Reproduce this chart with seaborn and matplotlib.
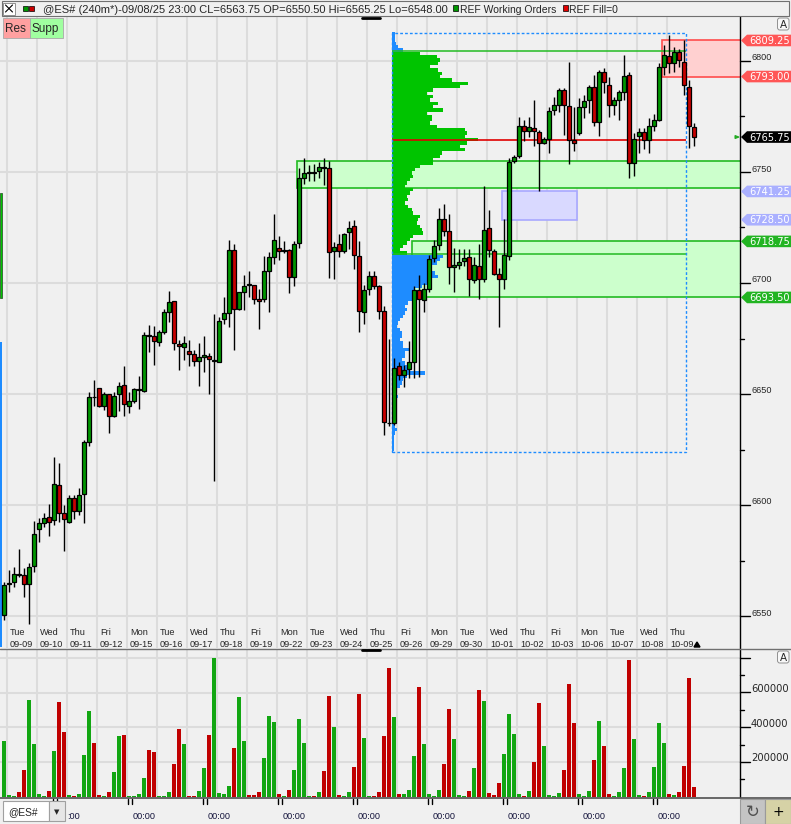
import numpy as np
import pandas as pd
import matplotlib
matplotlib.use("Agg")
import matplotlib.pyplot as plt
import matplotlib.patches as mpatches
from matplotlib.lines import Line2D
import seaborn as sns

# ---- data: @ES# 240 min bars, 09/08 .. 10/09 ----
opens = [6550.5,
         6564.5, 6565.25, 6568.75, 6568.5, 6564.5, 6572.5,
         6589.0, 6592.0, 6594.5, 6593.25, 6609.0, 6596.5,
         6592.5, 6603.25, 6597.5, 6605.0, 6628.5, 6648.75,
         6652.5, 6644.75, 6650.0, 6640.25, 6650.0, 6654.0,
         6644.75, 6647.0, 6652.0, 6651.5, 6676.5, 6676.25,
         6673.25, 6677.75, 6687.0, 6692.0, 6672.5, 6671.0,
         6669.25, 6668.0, 6665.0, 6666.5, 6667.25, 6665.0,
         6664.5, 6683.75, 6686.5, 6715.0, 6688.5, 6696.0,
         6699.5, 6699.0, 6692.75, 6693.0, 6705.5, 6711.5,
         6715.75, 6714.5, 6715.0, 6702.5, 6718.0, 6747.5,
         6749.75, 6749.75, 6750.25, 6752.25, 6751.75, 6714.25,
         6717.5, 6714.5, 6722.75, 6725.75, 6712.25, 6687.0,
         6697.25, 6703.25, 6698.5, 6687.5, 6637.0, 6636.75,
         6662.5, 6658.5, 6661.25, 6664.5, 6697.0, 6692.5,
         6697.25, 6711.25, 6717.0, 6728.75, 6723.5, 6707.0,
         6708.0, 6709.75, 6711.5, 6701.5, 6707.75, 6701.75,
         6725.0, 6714.5, 6704.0, 6702.0, 6712.25, 6754.75,
         6757.0, 6770.75, 6768.25, 6769.75, 6768.0, 6763.0,
         6764.75, 6778.0, 6780.0, 6786.75, 6779.75, 6764.25,
         6767.75, 6779.5, 6782.25, 6788.25, 6772.5, 6795.0,
         6789.25, 6780.0, 6782.5, 6786.25, 6793.75, 6754.0,
         6766.0, 6768.0, 6764.5, 6770.75, 6773.5, 6797.5,
         6802.25, 6799.0, 6804.25, 6799.75, 6788.25, 6770.25]
highs = [6565.25,
         6570.5, 6572.25, 6580.25, 6571.5, 6573.75, 6593.0,
         6594.0, 6596.25, 6600.5, 6621.75, 6619.0, 6600.0,
         6604.5, 6604.5, 6607.5, 6629.25, 6651.0, 6656.5,
         6652.5, 6650.75, 6650.0, 6650.75, 6655.25, 6662.75,
         6651.0, 6652.5, 6658.25, 6677.75, 6681.0, 6680.5,
         6679.0, 6688.25, 6696.5, 6692.0, 6674.5, 6676.25,
         6674.5, 6670.0, 6673.0, 6676.0, 6668.5, 6686.0,
         6684.5, 6693.5, 6719.5, 6717.5, 6695.75, 6703.75,
         6705.5, 6699.0, 6697.5, 6712.25, 6713.75, 6731.0,
         6721.25, 6719.0, 6715.5, 6718.75, 6751.75, 6756.25,
         6753.0, 6753.75, 6754.5, 6756.25, 6754.75, 6718.5,
         6722.0, 6722.5, 6727.75, 6728.5, 6719.0, 6699.0,
         6705.25, 6705.25, 6699.0, 6689.5, 6674.75, 6666.0,
         6664.5, 6663.0, 6674.0, 6698.5, 6703.5, 6700.0,
         6712.75, 6719.5, 6733.75, 6735.5, 6731.0, 6715.75,
         6715.25, 6715.25, 6715.25, 6711.5, 6717.5, 6743.5,
         6733.0, 6715.25, 6706.75, 6728.75, 6756.5, 6757.75,
         6775.0, 6773.5, 6775.0, 6782.25, 6769.0, 6765.75,
         6779.5, 6783.75, 6787.75, 6787.75, 6799.5, 6779.25,
         6783.25, 6784.75, 6789.25, 6793.75, 6795.75, 6796.75,
         6792.75, 6783.75, 6787.0, 6802.5, 6795.0, 6767.5,
         6769.75, 6769.75, 6774.25, 6776.25, 6799.0, 6807.25,
         6811.75, 6806.5, 6805.25, 6809.25, 6791.25, 6772.25]
lows = [6548.0,
        6561.0, 6563.25, 6567.75, 6558.75, 6546.5, 6570.0,
        6583.5, 6590.25, 6586.0, 6591.0, 6592.5, 6579.5,
        6592.0, 6593.5, 6595.5, 6592.0, 6626.5, 6644.75,
        6644.25, 6643.0, 6632.5, 6639.5, 6642.5, 6640.0,
        6641.25, 6646.0, 6643.25, 6650.75, 6669.0, 6663.0,
        6671.5, 6677.0, 6682.5, 6670.0, 6661.0, 6665.5,
        6662.5, 6662.5, 6653.75, 6659.75, 6650.0, 6611.0,
        6664.25, 6681.5, 6680.0, 6670.0, 6688.0, 6688.0,
        6693.5, 6690.5, 6679.5, 6691.5, 6687.0, 6708.5,
        6710.5, 6713.5, 6695.5, 6698.5, 6715.75, 6744.5,
        6745.75, 6746.0, 6747.25, 6744.0, 6702.25, 6701.75,
        6711.5, 6713.5, 6715.5, 6706.25, 6678.0, 6681.5,
        6694.5, 6697.25, 6683.75, 6631.5, 6635.5, 6636.0,
        6656.25, 6653.25, 6657.0, 6657.0, 6657.5, 6687.0,
        6696.0, 6709.5, 6715.0, 6721.0, 6699.5, 6696.0,
        6706.5, 6707.75, 6694.25, 6700.0, 6693.0, 6700.5,
        6711.5, 6703.5, 6680.0, 6697.5, 6710.5, 6754.25,
        6756.25, 6763.75, 6765.75, 6761.5, 6741.25, 6762.5,
        6758.75, 6775.75, 6777.0, 6766.5, 6753.75, 6759.25,
        6766.75, 6774.25, 6776.5, 6770.75, 6766.25, 6785.75,
        6775.0, 6775.75, 6773.5, 6782.5, 6747.25, 6748.25,
        6758.5, 6760.5, 6758.75, 6768.25, 6772.75, 6793.75,
        6794.5, 6795.25, 6797.25, 6784.75, 6760.75, 6761.75]
closes = [6563.75,
          6564.75, 6568.75, 6568.5, 6564.5, 6572.0, 6587.0,
          6591.75, 6594.0, 6592.5, 6609.5, 6596.5, 6593.5,
          6603.25, 6597.5, 6604.5, 6628.25, 6648.5, 6648.5,
          6644.5, 6650.0, 6640.25, 6649.25, 6653.75, 6645.5,
          6647.0, 6652.25, 6652.25, 6676.5, 6676.25, 6674.0,
          6677.75, 6686.75, 6691.5, 6673.0, 6671.5, 6673.0,
          6668.0, 6665.0, 6666.5, 6667.5, 6665.75, 6665.25,
          6683.0, 6686.5, 6715.0, 6688.5, 6695.75, 6698.75,
          6699.25, 6692.75, 6692.0, 6705.5, 6711.75, 6719.5,
          6714.5, 6714.75, 6702.5, 6717.5, 6747.25, 6749.5,
          6750.0, 6749.5, 6752.25, 6752.0, 6714.0, 6716.0,
          6714.5, 6722.0, 6725.0, 6712.5, 6687.5, 6697.0,
          6703.25, 6698.75, 6687.5, 6637.25, 6636.75, 6661.5,
          6658.5, 6661.0, 6664.25, 6697.0, 6692.75, 6697.25,
          6710.75, 6716.75, 6728.75, 6723.5, 6707.0, 6708.0,
          6709.5, 6711.25, 6701.75, 6708.0, 6702.0, 6723.75,
          6715.0, 6704.0, 6702.0, 6712.5, 6754.5, 6756.75,
          6770.75, 6768.25, 6770.25, 6768.25, 6763.0, 6765.0,
          6777.5, 6780.25, 6786.75, 6780.0, 6764.5, 6763.0,
          6779.25, 6782.0, 6788.25, 6772.5, 6795.0, 6790.5,
          6780.0, 6782.5, 6786.25, 6793.25, 6754.0, 6765.0,
          6768.0, 6764.5, 6770.75, 6773.25, 6797.25, 6802.75,
          6799.0, 6804.25, 6800.25, 6789.25, 6770.5, 6765.75]
volumes_k = [320,
             9, 4, 27, 153, 560, 307,
             16, 4, 32, 267, 548, 375,
             9, 4, 16, 244, 496, 313,
             9, 4, 27, 141, 353, 359,
             3, 3, 16, 112, 272, 256,
             4, 3, 27, 187, 393, 302,
             4, 3, 32, 164, 359, 800,
             21, 16, 61, 284, 576, 324,
             9, 9, 27, 222, 468, 433,
             16, 4, 38, 153, 450, 313,
             4, 4, 27, 147, 582, 405,
             9, 3, 27, 170, 594, 341,
             4, 4, 27, 353, 743, 462,
             16, 16, 38, 233, 633, 302,
             16, 4, 38, 192, 508, 336,
             9, 4, 32, 164, 617, 553,
             21, 9, 78, 250, 479, 364,
             16, 4, 32, 199, 542, 295,
             9, 4, 21, 153, 651, 427,
             16, 4, 32, 210, 439, 295,
             16, 4, 27, 164, 788, 336,
             9, 4, 27, 170, 427, 313,
             16, 9, 27, 181, 685, 55]

day_names = ["Tue", "Wed", "Thu", "Fri", "Mon", "Tue", "Wed", "Thu", "Fri", "Mon", "Tue", "Wed",
             "Thu", "Fri", "Mon", "Tue", "Wed", "Thu", "Fri", "Mon", "Tue", "Wed", "Thu"]
day_dates = ["09-09", "09-10", "09-11", "09-12", "09-15", "09-16", "09-17", "09-18", "09-19",
             "09-22", "09-23", "09-24", "09-25", "09-26", "09-29", "09-30", "10-01", "10-02",
             "10-03", "10-06", "10-07", "10-08", "10-09"]

# volume profile of the last 2 weeks, one row every 1.5 pts from the top
profile_top, profile_step = 6812.5, 1.5
profile_vol = [3, 3, 3, 4, 6, 11, 28, 45, 48, 46, 38, 46, 50, 48, 60, 76, 68, 41, 35, 41,
               38, 46, 41, 51, 35, 40, 40, 38, 45, 73, 75, 73, 86, 75, 68, 73, 50, 48, 41, 41,
               28, 23, 20, 21, 18, 15, 13, 21, 18, 15, 16, 13, 16, 20, 21, 28, 26, 25, 28, 30,
               31, 21, 18, 15, 11, 8, 15, 51, 48, 45, 35, 40, 43, 46, 38, 35, 30, 23, 21, 23,
               20, 16, 13, 15, 13, 11, 8, 6, 5, 8, 10, 10, 8, 11, 11, 18, 13, 13, 10, 13,
               15, 18, 33, 15, 11, 10, 8, 5, 3, 6, 4, 2, 2, 2, 2, 2, 2, 2, 3, 5,
               3, 2, 2, 2, 2, 2]
poc, vah, val = 6764.5, 6804.5, 6713.0
profile_low, profile_high = 6623.75, 6812.5

support_zones = [(6743.0, 6754.75), (6693.5, 6718.75)]
resistance_zone = (6793.0, 6809.25)
order_box = (6728.5, 6741.25)
last_price = 6765.75
header = "@ES# (240m*)-09/08/25 23:00 CL=6563.75 OP=6550.50 Hi=6565.25 Lo=6548.00"

# ---- layout (pixels of the 791x824 window) ----
W, H = 791, 824
BG = "#f0f0f0"
GRID = "#dcdcdc"

sns.set_style("white", {"axes.facecolor": BG, "figure.facecolor": BG})
plt.rcParams["font.family"] = ["Liberation Sans", "DejaVu Sans"]


def fx(px):
    return px / W


def fy(py):
    return 1 - py / H


def ypx(price):
    return 616 - (price - 6550) * 2.22


def frect(x0, y0, x1, y1, **kw):
    fig.add_artist(mpatches.Rectangle((fx(x0), fy(y1)), (x1 - x0) / W, (y1 - y0) / H,
                                      transform=fig.transFigure, **kw))


def fline(xs, ys, **kw):
    fig.add_artist(Line2D([fx(v) for v in xs], [fy(v) for v in ys], transform=fig.transFigure, **kw))


def ftext(x, y, s, **kw):
    fig.text(fx(x), fy(y), s, **kw)


fig = plt.figure(figsize=(W / 100, H / 100), dpi=100)
fig.patch.set_facecolor(BG)

ax = fig.add_axes([0, fy(648), 740 / W, (648 - 16) / H])
axv = fig.add_axes([0, fy(797), 740 / W, (797 - 650) / H])

n = len(opens)
x = np.arange(n)
o, h, l, c = (np.array(a, dtype=float) for a in (opens, highs, lows, closes))
up = c >= o

# --- price panel ---
ax.set_facecolor(BG)
for k in range(len(day_names)):
    ax.axvline(0.5 + 6 * k, color=GRID, lw=1.5, zorder=0)
for p in range(6550, 6801, 50):
    ax.axhline(p, color=GRID, lw=1.5, zorder=0)

# zones
for lo, hi in support_zones:
    x0 = 58.6 if lo > 6740 else 81.6
    ax.add_patch(mpatches.Rectangle((x0, lo), 160, hi - lo, fc="#ccffcc", ec="#22bb22", lw=1.2, zorder=1))
ax.add_patch(mpatches.Rectangle((131.6, resistance_zone[0]), 30, resistance_zone[1] - resistance_zone[0],
                                fc="#ffd0d0", ec="#ff4c4c", lw=1.2, zorder=1))
ax.add_patch(mpatches.Rectangle((99.6, order_box[0]), 15.0, order_box[1] - order_box[0],
                                fc="#d9d9ff", ec="#a8a8ff", lw=1.2, zorder=1))

# volume profile
pv = np.array(profile_vol, dtype=float)
levels = profile_top - profile_step * np.arange(len(pv))
pcol = np.where((levels >= val) & (levels <= vah), "#00c400", "#1e8cff")
prof_left, prof_right = 77.6, 136.4
ax.barh(levels, pv / pv.max() * 17.2, left=prof_left, height=profile_step, color=pcol, lw=0, zorder=2)
ax.hlines([vah, val], prof_left, prof_right, color="#22bb22", lw=1.1, zorder=2.5)
ax.hlines(poc, prof_left, prof_right, color="#e00000", lw=1.2, zorder=2.6)
ax.add_patch(mpatches.Rectangle((prof_left, profile_low), prof_right - prof_left, profile_high - profile_low,
                                fill=False, ec="#1e8cff", lw=1.0, ls=(0, (2, 1.5)), zorder=2.7))
# sliver of the previous profile on the left edge
ax.add_patch(mpatches.Rectangle((-0.8, 6693.2), 0.4, 47.3, fc="#00c400", ec="#306030", lw=0.6, zorder=2))
ax.add_patch(mpatches.Rectangle((-0.8, 6536), 0.4, 137.4, fc="#1e8cff", lw=0, zorder=2))

# candles
ax.vlines(x, l, h, color="black", lw=1.0, zorder=4)
ax.bar(x, np.maximum(np.abs(c - o), 0.3), bottom=np.minimum(o, c), width=0.7,
       color=np.where(up, "#009600", "#c80000"), edgecolor="black", linewidth=0.9, zorder=5)

# day labels
for k, (dn, dd) in enumerate(zip(day_names, day_dates)):
    ax.text(0.5 + 6 * k + 0.7, 6541.4, dn, fontsize=6.6, va="baseline", ha="left", zorder=6)
    ax.text(0.5 + 6 * k + 0.7, 6536.2, dd, fontsize=6.6, va="baseline", ha="left", zorder=6)

ax.set_xlim(-0.8, 147.2)
ax.set_ylim(6535.59, 6820.27)
ax.set_xticks([])
ax.set_yticks([])
for s in ["left", "top", "bottom"]:
    ax.spines[s].set_visible(False)
ax.spines["right"].set_color("black")
ax.spines["right"].set_linewidth(1.0)

# --- volume panel ---
axv.set_facecolor(BG)
for k in range(len(day_names)):
    axv.axvline(0.5 + 6 * k, color=GRID, lw=1.5, zorder=0)
for v in range(200000, 800001, 200000):
    axv.axhline(v, color=GRID, lw=1.5, zorder=0)
vol_df = pd.DataFrame({"bar": x, "volume": np.array(volumes_k) * 1000,
                       "side": np.where(up, "up", "down")})
sns.barplot(data=vol_df, x="bar", y="volume", hue="side", palette={"up": "#12a612", "down": "#c00000"},
            native_scale=True, dodge=False, width=0.8, saturation=1, legend=False,
            linewidth=0, errorbar=None, ax=axv, zorder=2)
axv.set_xlim(-0.8, 147.2)
axv.set_ylim(0, 845000)
axv.set_xlabel("")
axv.set_ylabel("")
axv.set_xticks([])
axv.set_yticks([])
for s in ["left", "top", "bottom"]:
    axv.spines[s].set_visible(False)
axv.spines["right"].set_color("black")
axv.spines["right"].set_linewidth(1.0)

# --- right price scale ---
for p in range(6550, 6801, 25):
    yy = ypx(p)
    if p % 50 == 0:
        fline([740, 750], [yy, yy], color="black", lw=1)
        ftext(751, yy - 0.5, str(p), fontsize=6.6, va="baseline", ha="left")
    else:
        fline([740, 744], [yy, yy], color="black", lw=1)


def tag(price, txt, fc):
    yc = ypx(price)
    pts = [(741, yc), (747, yc - 5.8), (791, yc - 5.8), (791, yc + 5.8), (747, yc + 5.8)]
    fig.add_artist(mpatches.Polygon([(fx(a), fy(b)) for a, b in pts], closed=True,
                                    transform=fig.transFigure, fc=fc, ec="none", zorder=10))
    ftext(749, yc + 3.6, txt, color="white", fontsize=7.1, family="DejaVu Sans",
          va="baseline", ha="left", zorder=11)


tag(resistance_zone[1], f"{resistance_zone[1]:.2f}", "#ff5656")
tag(resistance_zone[0], f"{resistance_zone[0]:.2f}", "#ff5656")
tag(last_price, f"{last_price:.2f}", "black")
tag(order_box[1], f"{order_box[1]:.2f}", "#aab0ff")
tag(order_box[0], f"{order_box[0]:.2f}", "#aab0ff")
tag(support_zones[1][1], f"{support_zones[1][1]:.2f}", "#22b422")
tag(support_zones[1][0], f"{support_zones[1][0]:.2f}", "#22b422")
yl = ypx(last_price)
fig.add_artist(mpatches.Polygon([(fx(735), fy(yl - 1.5)), (fx(739), fy(yl)), (fx(735), fy(yl + 1.5))],
                                closed=True, transform=fig.transFigure, fc="#22aa22", ec="#22aa22", lw=0.8))

# --- volume scale ---
vpx = 104.4 / 600000
for v in range(100000, 800001, 100000):
    yy = 796.7 - v * vpx
    if v % 200000 == 0:
        fline([740, 750], [yy, yy], color="black", lw=1)
        if v < 800000:
            ftext(751, yy - 0.5, str(v), fontsize=7.2, family="DejaVu Sans", va="baseline", ha="left")
    else:
        fline([740, 744], [yy, yy], color="black", lw=1)

# --- window chrome ---
fline([0, 791], [649, 649], color="#707070", lw=1.0)
fline([0, 791], [797.5, 797.5], color="#505050", lw=1.2)
fline([362, 380], [17.5, 17.5], color="black", lw=2)
fline([362, 380], [649.5, 649.5], color="black", lw=2)
fig.add_artist(mpatches.Polygon([(fx(694), fy(647)), (fx(697), fy(642)), (fx(700), fy(647))],
                                closed=True, transform=fig.transFigure, fc="black", ec="black"))

# header
frect(2, 1, 789, 15.5, fc=BG, ec="#707070", lw=0.8)
frect(3, 2.5, 15, 14.5, fc="white", ec="#808080", lw=0.6)
fline([5.5, 12.5], [5, 12], color="black", lw=0.8)
fline([5.5, 12.5], [12, 5], color="black", lw=0.8)
frect(23, 6, 28, 11, fc="#009600", ec="black", lw=0.5)
frect(29, 6, 34, 11, fc="#c80000", ec="black", lw=0.5)
ftext(43, 13, header, fontsize=8.0, va="baseline", ha="left")
frect(453, 5.5, 458, 10.5, fc="#009600", ec="black", lw=0.5)
ftext(460, 13, "REF Working Orders", fontsize=7.5, va="baseline", ha="left")
frect(563, 5.5, 568, 10.5, fc="#e00000", ec="black", lw=0.5)
ftext(569, 13, "REF Fill=0", fontsize=7.5, va="baseline", ha="left")

# Res / Supp buttons
frect(2.5, 18, 29.5, 38, fc="#ffa0a0", ec="#a8a8a8", lw=0.6, zorder=8)
ftext(5, 31.7, "Res", fontsize=8.5, va="baseline", ha="left", zorder=9)
frect(30, 18, 63, 38, fc="#a0ffa0", ec="#a8a8a8", lw=0.6, zorder=8)
ftext(32, 31.7, "Supp", fontsize=8.5, va="baseline", ha="left", zorder=9)

# "A" buttons
for y0 in (18, 651):
    fig.add_artist(mpatches.FancyBboxPatch((fx(777.5), fy(y0 + 12)), 11.5 / W, 12 / H,
                                           boxstyle="round,pad=0,rounding_size=0.003",
                                           transform=fig.transFigure, fc="#f8f8f8", ec="#909090", lw=0.7,
                                           zorder=9))
    ftext(783.2, y0 + 10.3, "A", fontsize=7.5, family="DejaVu Sans", va="baseline", ha="center", zorder=10)

# time scale strip
for k in range(9):
    xc = 69 + 75 * k
    fline([xc - 16.3, xc - 16.3], [799, 804], color="black", lw=1)
    fline([xc - 11.7, xc - 11.7], [799, 804], color="black", lw=1)
    if k == 0:
        # first label is half hidden behind the symbol box
        ftext(xc + 11.2, 819, ":00", fontsize=6.6, color="#14143c", va="baseline", ha="right")
    else:
        ftext(xc, 819, "00:00", fontsize=6.6, color="#14143c", va="baseline", ha="center")

# symbol combo box
frect(3, 800.5, 49, 821, fc="white", ec="#a0a0a0", lw=0.8, zorder=8)
ftext(8, 815.5, "@ES#", fontsize=7.4, va="baseline", ha="left", zorder=9)
frect(49, 800.5, 65, 821, fc="#e6e6e6", ec="#a0a0a0", lw=0.8, zorder=8)
ftext(57, 814, "\u25bc", fontsize=5, family="DejaVu Sans", va="baseline", ha="center", zorder=9)

# refresh / plus buttons
frect(740, 799, 764.5, 824, fc="#c4c4c4", ec="#9a9a9a", lw=0.8, zorder=8)
ftext(752.5, 811.5, "\u21bb", fontsize=12, family="DejaVu Sans", color="#505050",
      va="center", ha="center", zorder=9)
frect(765, 799, 791, 824, fc="#d6d2a6", ec="#9a9a9a", lw=0.8, zorder=8)
ftext(778, 811.5, "+", fontsize=10, family="DejaVu Sans", color="black", va="center", ha="center", zorder=9)

fig.savefig("out.png", dpi=100, facecolor=fig.get_facecolor())
